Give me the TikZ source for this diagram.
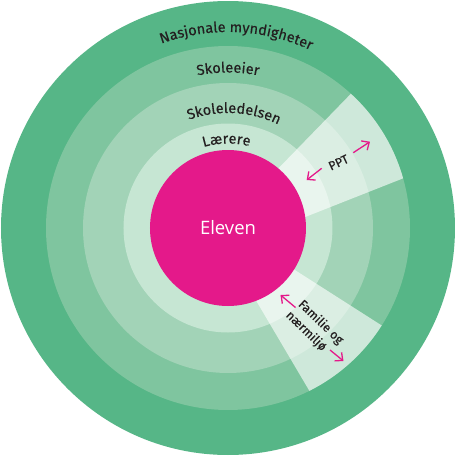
\documentclass[tikz,border=0pt]{standalone}
\usepackage{fontspec}
\setmainfont{Fira Sans}[FakeBold=0.35]
\newfontfamily\elevenfont{Open Sans}
\usetikzlibrary{decorations.text, arrows.meta}
\definecolor{ringA}{HTML}{56B687}
\definecolor{ringB}{HTML}{7FC59F}
\definecolor{ringC}{HTML}{A2D3B7}
\definecolor{ringD}{HTML}{C6E6D3}
\definecolor{mag}{HTML}{E4198A}
\definecolor{txt}{HTML}{231F20}
\newcommand{\arcfont}{\fontsize{14.5}{16}\selectfont\color{txt}}
\newcommand{\wedgefont}{\fontsize{12.4}{14.8}\selectfont}
\tikzset{
  ringlabel/.style={decorate, decoration={text along path, text align=center, text={|\arcfont|#1}}},
  overlay wedge/.style={fill=white, opacity=0.62},
  twoway/.style={draw=mag, line width=1.3pt, -{Straight Barb[length=6pt, width=11pt, line width=1.3pt]}},
  wedgetext/.style={text=txt, font=\wedgefont, inner sep=0pt}
}
\begin{document}
\begin{tikzpicture}[x=1pt,y=1pt]
\useasboundingbox (-228,-228) rectangle (228,228);
\fill[ringA] (0,0) circle (227);
\fill[ringB] (0,0) circle (182);
\fill[ringC] (0,0) circle (145);
\fill[ringD] (0,0) circle (104.5);
\begin{scope}
  \clip (0,0) circle (182);
  \fill[overlay wedge] (-43,-36.5) -- (172.4,185.2) -- (240.8,75.6) -- cycle;
  \fill[overlay wedge] (-24.4,16.3) -- (206.2,-131) -- (113,-216.4) -- cycle;
\end{scope}
\node[circle, fill=mag, minimum size=156pt, inner sep=0pt, text=white,
      font=\elevenfont\fontsize{18.5}{20}\selectfont] (eleven) at (0,0) {Eleven};
% ring labels
\path[ringlabel={Nasjonale myndigheter}] (147.5:196) arc[start angle=147.5, end angle=27.5, radius=196];
\path[ringlabel={Skoleeier}] (150:155.5) arc[start angle=150, end angle=30, radius=155.5];
\path[ringlabel={Skoleledelsen}] (147:115) arc[start angle=147, end angle=27, radius=115];
\path[ringlabel={Lærere}] (151:84.5) arc[start angle=151, end angle=31, radius=84.5];
% wedge labels
\node[wedgetext, rotate=25] (ppt) at (110.5,65.5) {PPT};
\node[wedgetext, rotate=-44, anchor=base west] (famA) at (69.6,-77.0) {Familie og};
\node[wedgetext, rotate=-44, anchor=base west] (famB) at (57.2,-87.9) {nærmiljø};
% arrows
\coordinate (pptInTail) at (93.7,59.7);
\coordinate (pptInTip) at (78.7,48);
\coordinate (pptOutTail) at (125.3,75.3);
\coordinate (pptOutTip) at (142,86.3);
\coordinate (famInTail) at (67.5,-79.5);
\coordinate (famInTip) at (52.5,-67);
\coordinate (famOutTail) at (102,-122);
\coordinate (famOutTip) at (115.5,-133);
\draw[twoway] (pptInTail) -- (pptInTip);
\draw[twoway] (pptOutTail) -- (pptOutTip);
\draw[twoway] (famInTail) -- (famInTip);
\draw[twoway] (famOutTail) -- (famOutTip);
\end{tikzpicture}
\end{document}
